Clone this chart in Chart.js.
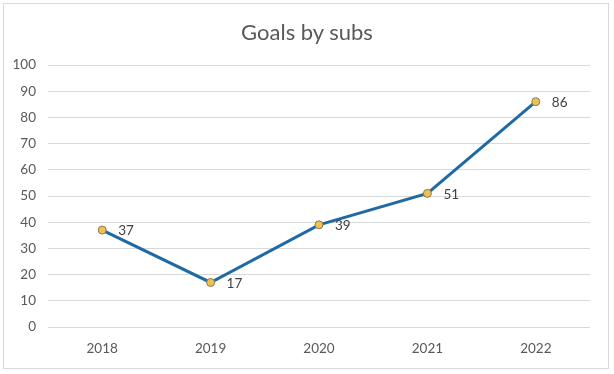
<!DOCTYPE html>
<html lang="en">
<head>
    <meta charset="UTF-8">
    <title>Goals by subs</title>
    <script src="https://cdn.jsdelivr.net/npm/chart.js"></script>
    <style>
        body {
            margin: 0;
            padding: 0;
            background-color: white;
        }
        .wrap {
            position: relative;
            width: 614px;
            height: 374px;
        }
        .frame {
            position: absolute;
            left: 3px;
            top: 3px;
            width: 604px;
            height: 364px;
            border: 1px solid #d9d9d9;
            pointer-events: none;
        }
        .title {
            position: absolute;
            left: 0;
            top: 18px;
            width: 614px;
            text-align: center;
            font-family: Lato, "Open Sans", sans-serif;
            font-size: 22px;
            line-height: 28px;
            color: #595959;
        }
        canvas {
            position: absolute;
            left: 0;
            top: 0;
        }
    </style>
</head>
<body>
    <div class="wrap">
        <canvas id="goalsChart" width="614" height="374"></canvas>
        <div class="title">Goals by subs</div>
        <div class="frame"></div>
    </div>

    <script>
        const years = ['2018', '2019', '2020', '2021', '2022'];
        const goals = [37, 17, 39, 51, 86];
        const yTicks = [0, 10, 20, 30, 40, 50, 60, 70, 80, 90, 100];

        const textColor = '#595959';
        const fontFamily = 'Lato, "Open Sans", sans-serif';

        // draws the value next to each point, like the Excel data labels
        const valueLabels = {
            id: 'valueLabels',
            afterDatasetsDraw(chart) {
                const ctx = chart.ctx;
                const meta = chart.getDatasetMeta(0);
                ctx.save();
                ctx.font = '13.5px ' + fontFamily;
                ctx.fillStyle = '#404040';
                ctx.textAlign = 'left';
                ctx.textBaseline = 'middle';
                meta.data.forEach((pt, i) => {
                    ctx.fillText(String(goals[i]), pt.x + 16, pt.y + 1);
                });
                ctx.restore();
            }
        };

        const ctx = document.getElementById('goalsChart').getContext('2d');

        new Chart(ctx, {
            type: 'line',
            data: {
                labels: years,
                datasets: [{
                    label: 'Goals by subs',
                    data: goals,
                    borderColor: '#1f6aa5',
                    borderWidth: 3,
                    backgroundColor: '#f0c050',
                    pointBackgroundColor: '#f0c050',
                    pointBorderColor: '#857a5a',
                    pointBorderWidth: 1,
                    pointRadius: 4,
                    fill: false,
                    tension: 0
                }]
            },
            options: {
                responsive: false,
                animation: false,
                layout: {
                    padding: { left: 0, right: 24, top: 65, bottom: 0 }
                },
                scales: {
                    x: {
                        offset: true,
                        grid: { display: false, drawTicks: false },
                        border: { display: false },
                        ticks: {
                            color: textColor,
                            font: { family: fontFamily, size: 13.5 },
                            padding: 14
                        },
                        afterFit(scale) { scale.height = 47; }
                    },
                    y: {
                        min: 0,
                        max: 100,
                        afterBuildTicks(scale) {
                            scale.ticks = yTicks.map(v => ({ value: v }));
                        },
                        grid: { color: '#d9d9d9', drawTicks: false },
                        border: { display: false },
                        ticks: {
                            color: textColor,
                            font: { family: fontFamily, size: 13.5 },
                            padding: 12
                        },
                        afterFit(scale) { scale.width = 48; }
                    }
                },
                plugins: {
                    legend: { display: false },
                    tooltip: { enabled: false },
                    title: { display: false }
                }
            },
            plugins: [valueLabels]
        });
    </script>
</body>
</html>
